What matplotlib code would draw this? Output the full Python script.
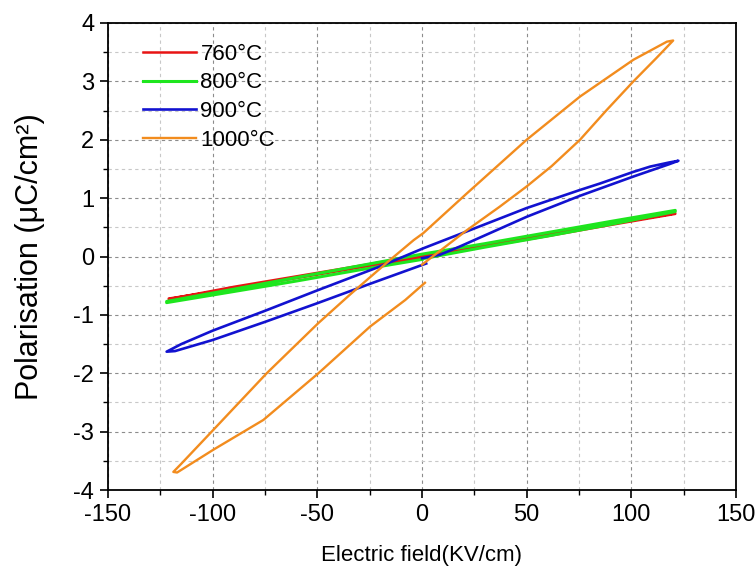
import matplotlib
matplotlib.use("Agg")
import matplotlib.pyplot as plt
from matplotlib.ticker import MultipleLocator

plt.rcParams["font.family"] = ["Liberation Sans", "DejaVu Sans"]
plt.rcParams["axes.unicode_minus"] = False

# P-E loops: field (kV/cm), polarisation (uC/cm^2)
labels = ["760°C", "800°C", "900°C", "1000°C"]
colors = ["#e81414", "#1ee61e", "#1212d0", "#f28c1e"]

e_760 = [0, 30, 60, 90, 121, 121, 90, 60, 30, 0, -30, -60, -90, -121,
         -121, -90, -60, -30, 0]
p_760 = [-0.01, 0.17, 0.35, 0.54, 0.73, 0.74, 0.56, 0.38, 0.20, 0.02, -0.16,
         -0.34, -0.52, -0.73, -0.72, -0.55, -0.37, -0.19, -0.02]

e_800 = [0, 30, 60, 90, 121, 121, 90, 60, 30, 0, -30, -60, -90, -122,
         -122, -90, -60, -30, 0]
p_800 = [-0.04, 0.16, 0.35, 0.55, 0.77, 0.79, 0.60, 0.41, 0.22, 0.04, -0.16,
         -0.36, -0.56, -0.77, -0.79, -0.60, -0.42, -0.23, -0.05]

e_900 = [0, 8.6, 18, 50, 75.5, 101, 118, 122.5, 118, 109, 101, 85, 75.5, 50,
         21.4, 0.6, -20, -50, -75, -100, -115, -122, -118, -100, -75, -50,
         -25, 2]
p_900 = [-0.03, 0.03, 0.17, 0.68, 1.04, 1.37, 1.58, 1.64, 1.61, 1.54, 1.45,
         1.25, 1.14, 0.83, 0.43, 0.14, -0.17, -0.58, -0.93, -1.27, -1.50,
         -1.63, -1.62, -1.43, -1.12, -0.80, -0.47, -0.12]

e_1000 = [0, 21.4, 37, 50, 62, 75.5, 88, 101, 112, 120, 117, 101, 75.5, 50,
          21.4, 0.6, -4, -15.3, -34, -49.5, -74.2, -99.7, -115, -118.8, -117,
          -99.7, -75.8, -49.5, -24.8, -8, 1.4]
p_1000 = [-0.14, 0.45, 0.85, 1.2, 1.55, 2.0, 2.5, 3.0, 3.4, 3.70, 3.68, 3.37,
          2.74, 2.0, 1.08, 0.40, 0.28, -0.06, -0.64, -1.14, -2.0, -2.97,
          -3.55, -3.69, -3.70, -3.31, -2.80, -2.0, -1.20, -0.745, -0.45]

series = [(e_760, p_760), (e_800, p_800), (e_900, p_900), (e_1000, p_1000)]
widths = [1.8, 2.2, 1.9, 1.7]

fig = plt.figure(figsize=(7.56, 5.69), dpi=100)
ax = fig.add_axes([0.1429, 0.1388, 0.8306, 0.8208])

for (e, p), lab, col, lw in zip(series, labels, colors, widths):
    ax.plot(e, p, color=col, linewidth=lw, label=lab)

ax.set_xlim(-150, 150)
ax.set_ylim(-4, 4)
ax.xaxis.set_major_locator(MultipleLocator(50))
ax.xaxis.set_minor_locator(MultipleLocator(25))
ax.yaxis.set_major_locator(MultipleLocator(1))
ax.yaxis.set_minor_locator(MultipleLocator(0.5))

ax.grid(which="major", color="#8c8c8c", linestyle=(0, (3, 3)), linewidth=0.8)
ax.grid(which="minor", color="#c8c8c8", linestyle=(0, (3, 3)), linewidth=0.8)
ax.set_axisbelow(True)

ax.tick_params(which="major", direction="out", length=6, width=1.2,
               labelsize=17, top=False, right=False, pad=4)
ax.tick_params(which="minor", direction="out", length=3.5, width=1.0,
               top=False, right=False)
for s in ax.spines.values():
    s.set_linewidth(1.3)

ax.set_xlabel("Electric field(KV/cm)", fontsize=16, labelpad=14)
ax.set_ylabel("Polarisation (μC/cm²)", fontsize=22, labelpad=20)

ax.legend(loc="upper left", bbox_to_anchor=(0.041, 0.975), frameon=False,
          fontsize=16, handlelength=2.4, handletextpad=0.2, labelspacing=0.35,
          borderaxespad=0)

fig.savefig("out.png", dpi=100)
